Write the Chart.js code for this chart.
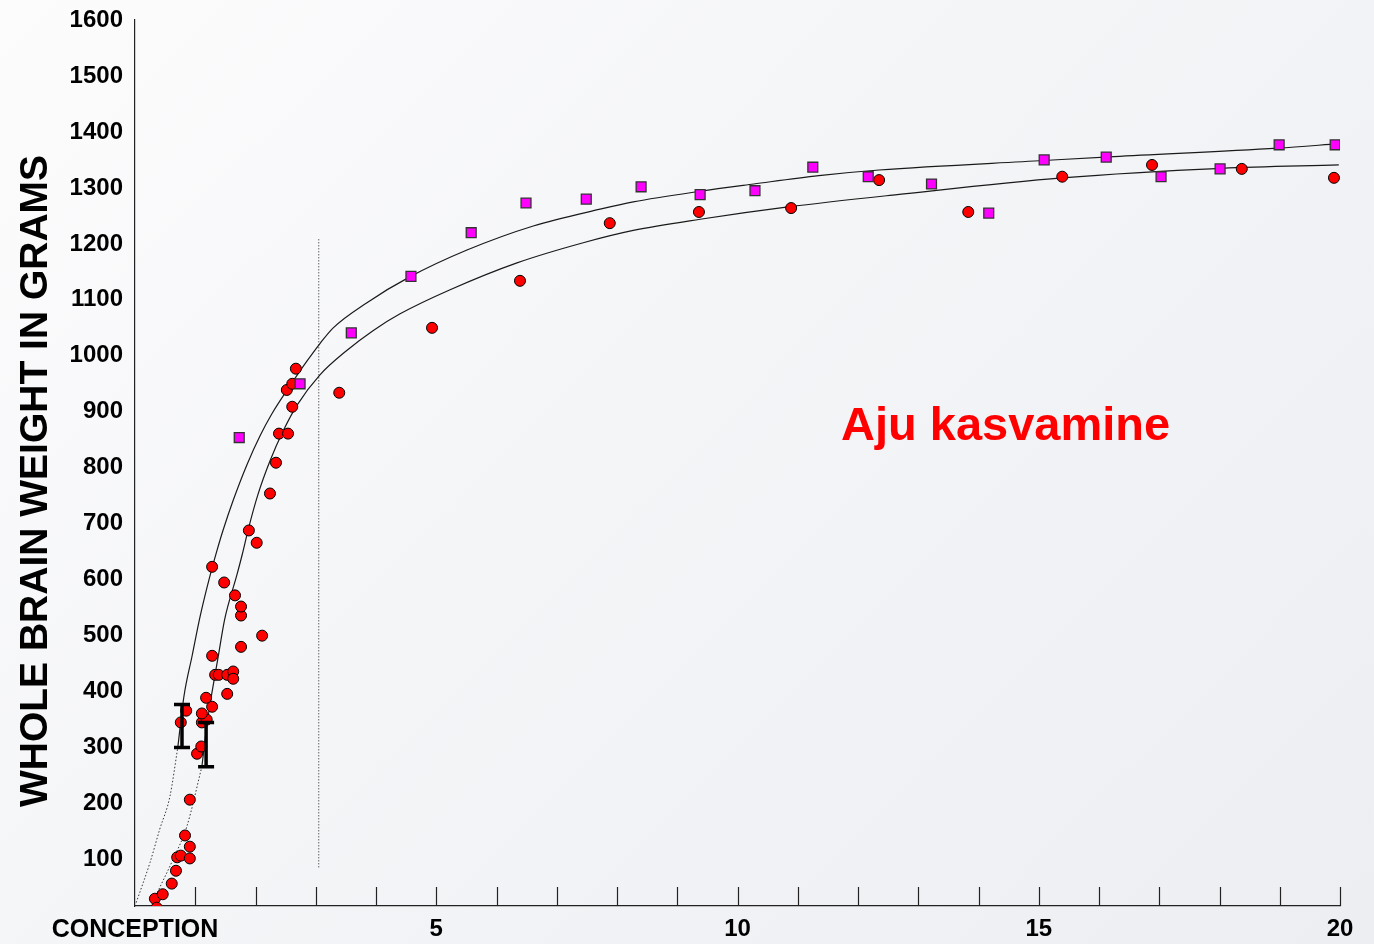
<!DOCTYPE html>
<html>
<head>
<meta charset="utf-8">
<script src="https://cdn.jsdelivr.net/npm/chart.js@4.4.0/dist/chart.umd.min.js"></script>
<style>
html, body { margin: 0; padding: 0; }
body { width: 1374px; height: 944px; background: linear-gradient(135deg, #fcfcfd 0%, #f4f5f7 45%, #eceef2 100%); }
#wrap { position: relative; width: 1374px; height: 944px; }
</style>
</head>
<body>
<div id="wrap"><canvas id="brainChart"></canvas></div>
<script>
const FONT = '"Liberation Sans", Arial, sans-serif';

// red circles
const circleAges = [0.33, 0.36, 0.46, 0.61, 0.68, 0.70, 0.76, 0.91, 0.91, 0.83, 0.91, 1.03, 1.10, 0.76, 0.85,
    1.11, 1.19, 1.11, 1.28, 1.18, 1.53, 1.33, 1.39, 1.53, 1.63, 1.63, 1.28, 1.76, 2.11, 1.76, 1.76, 1.66,
    1.48, 1.28, 2.02, 1.89, 2.24, 2.34, 2.39, 2.54, 2.61, 2.52, 2.61, 2.67, 3.39, 4.93, 6.39, 7.88, 9.36,
    10.89, 12.35, 13.83, 15.39, 16.88, 18.37, 19.90];
const circleWeights = [30, 14, 38, 57, 80, 104, 107, 102, 123, 143, 207, 289, 302, 345, 366,
    345, 350, 361, 373, 389, 396, 430, 430, 430, 436, 423, 464, 480, 500, 536, 552, 572,
    595, 623, 666, 688, 754, 809, 861, 861, 909, 939, 950, 977, 934, 1050, 1134, 1237, 1257,
    1264, 1314, 1257, 1320, 1341, 1334, 1318];

// magenta squares
const squareAges = [1.73, 2.74, 3.59, 4.58, 5.58, 6.49, 7.49, 8.40, 9.38, 10.29, 11.25, 12.17, 13.22,
    14.17, 15.09, 16.12, 17.03, 18.01, 18.99, 19.92];
const squareWeights = [854, 950, 1041, 1142, 1220, 1273, 1280, 1302, 1288, 1295, 1337, 1320, 1307,
    1255, 1350, 1355, 1320, 1334, 1377, 1377];

// upper curve
const upperDotAges = [0.02, 0.25, 0.41, 0.58, 0.71];
const upperDotWeights = [23, 95, 154, 213, 300];
const upperAges = [0.71, 0.81, 0.95, 1.08, 1.24, 1.36, 1.46, 1.63, 1.86, 2.08, 2.27, 2.57, 2.85, 3.07, 3.29,
    3.85, 4.56, 5.51, 6.61, 7.72, 8.27, 9.38, 10.27, 11.35, 12.35, 15.09, 16.25, 18.97, 19.98];
const upperWeights = [300, 390, 465, 534, 605, 652, 688, 742, 806, 858, 896, 946, 990, 1022, 1050,
    1095, 1141, 1189, 1232, 1262, 1275, 1294, 1307, 1322, 1332, 1349, 1356, 1371, 1379];

// lower curve
const lowerDotAges = [0.37, 0.63, 0.86, 1.11];
const lowerDotWeights = [41, 100, 159, 266];
const lowerAges = [1.11, 1.20, 1.28, 1.38, 1.49, 1.69, 1.78, 1.88, 2.04, 2.24, 2.46, 2.69, 3.07, 3.52, 3.95,
    4.40, 5.23, 6.34, 7.44, 8.27, 9.38, 10.84, 12.65, 15.39, 18.04, 19.98];
const lowerWeights = [266, 345, 400, 462, 530, 608, 645, 690, 752, 812, 866, 912, 966, 1010, 1045,
    1075, 1118, 1166, 1202, 1224, 1244, 1266, 1288, 1318, 1335, 1341];

// vertical dotted marker
const markerAges = [3.05, 3.05];
const markerWeights = [86, 1211];

// error bars
const errAges = [0.78, 1.18];
const errLow = [300, 266];
const errHigh = [377, 345];

const yTicks = [100, 200, 300, 400, 500, 600, 700, 800, 900, 1000, 1100, 1200, 1300, 1400, 1500, 1600];
const xLabels = [0, 5, 10, 15, 20];
const xTickMarks = [1, 2, 3, 4, 5, 6, 7, 8, 9, 10, 11, 12, 13, 14, 15, 16, 17, 18, 19, 20];

const pts = (xs, ys) => xs.map((x, i) => ({ x: x, y: ys[i] }));

const extras = {
    id: 'extras',
    afterDatasetsDraw(chart) {
        const { ctx, scales: { x, y }, chartArea } = chart;
        ctx.save();
        // inward tick marks
        ctx.strokeStyle = '#222';
        ctx.lineWidth = 1.2;
        xTickMarks.forEach(v => {
            const px = Math.round(x.getPixelForValue(v)) + 0.5;
            ctx.beginPath();
            ctx.moveTo(px, chartArea.bottom);
            ctx.lineTo(px, chartArea.bottom - 19);
            ctx.stroke();
        });
        // error bars
        ctx.strokeStyle = '#000';
        ctx.lineWidth = 3.5;
        errAges.forEach((a, i) => {
            const px = x.getPixelForValue(a);
            const lo = y.getPixelForValue(errLow[i]);
            const hi = y.getPixelForValue(errHigh[i]);
            ctx.beginPath();
            ctx.moveTo(px, lo); ctx.lineTo(px, hi);
            ctx.moveTo(px - 8, lo); ctx.lineTo(px + 8, lo);
            ctx.moveTo(px - 8, hi); ctx.lineTo(px + 8, hi);
            ctx.stroke();
        });
        ctx.restore();
    },
    afterDraw(chart) {
        const { ctx, scales: { x, y } } = chart;
        ctx.save();
        ctx.fillStyle = '#ff0000';
        ctx.font = 'bold 47px ' + FONT;
        ctx.textAlign = 'center';
        ctx.textBaseline = 'middle';
        ctx.fillText('Aju kasvamine', x.getPixelForValue(14.45), y.getPixelForValue(873));
        // y axis title
        ctx.fillStyle = '#000';
        ctx.font = 'bold 39px ' + FONT;
        ctx.translate(36, 481);
        ctx.rotate(-Math.PI / 2);
        ctx.fillText('WHOLE BRAIN WEIGHT IN GRAMS', 0, 0);
        ctx.restore();
    }
};

const lineStyle = { showLine: true, pointRadius: 0, borderColor: '#1a1a1a', borderWidth: 1.2, fill: false };

new Chart(document.getElementById('brainChart'), {
    type: 'scatter',
    data: {
        datasets: [
            {
                label: 'circles',
                data: pts(circleAges, circleWeights),
                pointStyle: 'circle',
                pointRadius: 5.5,
                backgroundColor: '#ff0000',
                borderColor: '#000',
                borderWidth: 1,
                order: 1
            },
            {
                label: 'squares',
                data: pts(squareAges, squareWeights),
                pointStyle: 'rect',
                pointRadius: 7,
                backgroundColor: '#ff00ff',
                borderColor: '#333',
                borderWidth: 1.3,
                order: 0
            },
            Object.assign({ label: 'upper', data: pts(upperAges, upperWeights), cubicInterpolationMode: 'monotone', order: 2 }, lineStyle),
            Object.assign({ label: 'lower', data: pts(lowerAges, lowerWeights), cubicInterpolationMode: 'monotone', order: 2 }, lineStyle),
            Object.assign({ label: 'upperDot', data: pts(upperDotAges, upperDotWeights), cubicInterpolationMode: 'monotone', order: 2 }, lineStyle, { borderDash: [1.5, 2], borderWidth: 1, borderColor: '#333' }),
            Object.assign({ label: 'lowerDot', data: pts(lowerDotAges, lowerDotWeights), cubicInterpolationMode: 'monotone', order: 2 }, lineStyle, { borderDash: [1.5, 2], borderWidth: 1, borderColor: '#333' }),
            Object.assign({ label: 'marker', data: pts(markerAges, markerWeights), order: 3 }, lineStyle, { borderDash: [1.2, 1.8], borderWidth: 1, borderColor: '#444' })
        ]
    },
    options: {
        responsive: true,
        maintainAspectRatio: false,
        animation: false,
        layout: { padding: { top: 20, right: 34, left: 0, bottom: 0 } },
        plugins: { legend: { display: false }, tooltip: { enabled: false } },
        scales: {
            x: {
                type: 'linear',
                min: 0,
                max: 20,
                afterBuildTicks: s => { s.ticks = xLabels.map(v => ({ value: v })); },
                afterFit: s => { s.height = 38; },
                grid: { display: false, drawTicks: false },
                border: { display: true, color: '#222', width: 1.2 },
                ticks: {
                    autoSkip: false,
                    maxRotation: 0,
                    padding: 9,
                    color: '#000',
                    font: c => ({ family: FONT, weight: 'bold', size: (c.tick && c.tick.value === 0) ? 25 : 24 }),
                    callback: v => v === 0 ? 'CONCEPTION' : String(v)
                }
            },
            y: {
                type: 'linear',
                min: 17,
                max: 1600,
                afterBuildTicks: s => { s.ticks = yTicks.map(v => ({ value: v })); },
                afterFit: s => { s.width = 135; },
                grid: { display: false, drawTicks: false },
                border: { display: true, color: '#222', width: 1.2 },
                ticks: {
                    padding: 12,
                    color: '#000',
                    font: { family: FONT, weight: 'bold', size: 24, lineHeight: 0.6 },
                    callback: v => String(v)
                }
            }
        }
    },
    plugins: [extras]
});
</script>
</body>
</html>
